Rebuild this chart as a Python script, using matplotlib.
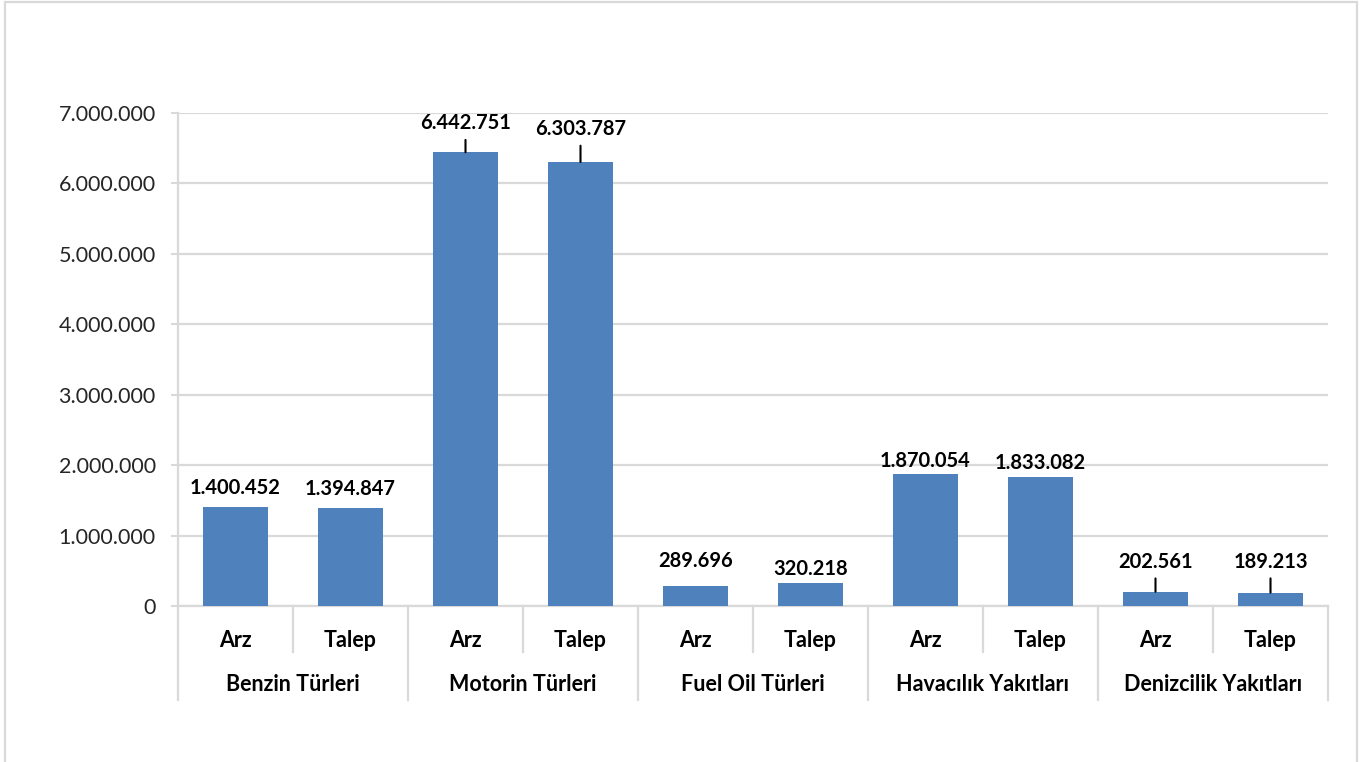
import matplotlib.pyplot as plt
import matplotlib.transforms as mtransforms
from matplotlib.patches import Rectangle
from matplotlib.ticker import FuncFormatter

plt.rcParams['font.family'] = ['Lato', 'DejaVu Sans']

groups = ['Benzin Türleri', 'Motorin Türleri', 'Fuel Oil Türleri',
          'Havacılık Yakıtları', 'Denizcilik Yakıtları']
subcats = ['Arz', 'Talep']
arz = [1400452, 6442751, 289696, 1870054, 202561]
talep = [1394847, 6303787, 320218, 1833082, 189213]

# label offsets above bar top (pixels) and whether a leader line is drawn
label_off = [19, 19, 29, 33, 25, 14, 13, 14, 30, 31]
leader = [False, False, True, True, False, False, False, False, True, True]

values = []
for a, t in zip(arz, talep):
    values += [a, t]
xs = list(range(len(values)))

fig = plt.figure(figsize=(13.62, 7.62), dpi=100)
W, H = 1362, 762
ax = fig.add_axes([178 / W, 1 - 606 / H, 1150 / W, 493 / H])

grid_c = '#D9D9D9'
bar_c = '#4F81BD'

ax.bar(xs, values, width=0.57, color=bar_c, zorder=3)
ax.set_xlim(-0.5, len(values) - 0.5)
ax.set_ylim(0, 7000000)
ax.set_yticks(range(0, 7000001, 1000000))
ax.yaxis.set_major_formatter(FuncFormatter(lambda v, p: f'{int(v):,}'.replace(',', '.')))
ax.grid(axis='y', color=grid_c, linewidth=1.6, zorder=0)
ax.tick_params(axis='y', length=5, width=1.5, color=grid_c, pad=11, labelsize=15.5,
               labelcolor='#262626')
for s in ['top', 'right']:
    ax.spines[s].set_visible(False)
for s in ['left', 'bottom']:
    ax.spines[s].set_color(grid_c)
    ax.spines[s].set_linewidth(1.6)

# first level category labels
ax.set_xticks(xs)
ax.set_xticklabels(subcats * len(groups), fontsize=15.5, fontweight='bold')
ax.tick_params(axis='x', length=0, pad=17)

trans = mtransforms.blended_transform_factory(ax.transData, ax.transAxes)
for i in range(len(values) + 1):
    b = i - 0.5
    y1 = -0.1907 if i % 2 == 0 else -0.0933
    ax.plot([b, b], [0, y1], color=grid_c, linewidth=1.6, transform=trans, clip_on=False)
for g, name in enumerate(groups):
    ax.text(2 * g + 0.5, -0.160, name, transform=trans, ha='center', va='center',
            fontsize=15.5, fontweight='bold')

# data labels
for x, v, off, ld in zip(xs, values, label_off, leader):
    lbl = f'{v:,}'.replace(',', '.')
    kw = {}
    if ld:
        kw['arrowprops'] = dict(arrowstyle='-', color='black', linewidth=1.5,
                                patchA=None, shrinkA=12, shrinkB=0)
    ax.annotate(lbl, xy=(x, v), xytext=(0, off * 0.72), textcoords='offset points',
                ha='center', va='center', fontsize=14.5, fontweight='bold', **kw)

# outer chart frame
fig.patches.append(Rectangle((5 / W, -0.02), 1352 / W, 1.02 - 2 / H, transform=fig.transFigure,
                             fill=False, edgecolor=grid_c, linewidth=1.6))

fig.savefig('out.png', dpi=100)
